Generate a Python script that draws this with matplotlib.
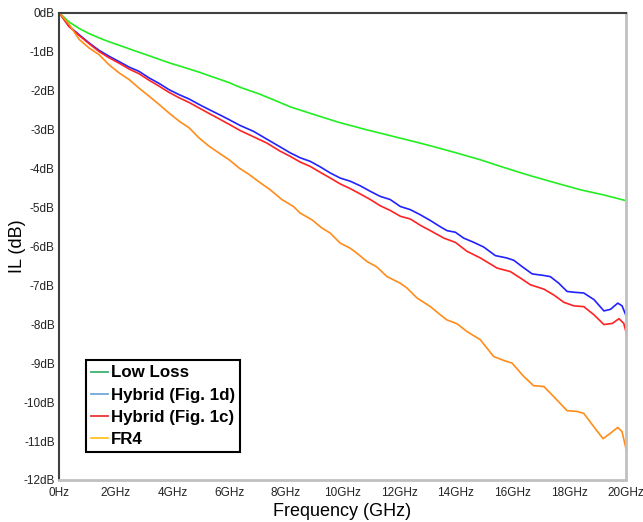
import matplotlib
matplotlib.use("Agg")
import matplotlib.pyplot as plt
from matplotlib.lines import Line2D

plt.rcParams['font.family'] = ['Liberation Sans', 'DejaVu Sans']

# valeurs (frequence en GHz, perte d'insertion en dB)
f_low_loss = [0, 0.35, 0.71, 1.06, 1.41, 1.76, 2.12, 2.47, 2.82, 3.18, 3.53, 3.88, 4.24,
              4.59, 4.94, 5.29, 5.65, 6.0, 6.39, 7.06, 7.6, 8.15, 9.0, 9.92, 10.8, 11.68,
              12.4, 13.1, 14.0, 14.86, 15.7, 16.63, 17.5, 18.39, 19.2, 20.0]
il_low_loss = [0, -0.24, -0.41, -0.54, -0.65, -0.75, -0.84, -0.93, -1.02, -1.11, -1.20,
               -1.29, -1.37, -1.45, -1.53, -1.62, -1.71, -1.80, -1.92, -2.09, -2.25, -2.42,
               -2.62, -2.83, -3.00, -3.16, -3.29, -3.42, -3.60, -3.78, -3.98, -4.19, -4.37,
               -4.55, -4.68, -4.83]

f_hybrid_1d = [0, 0.35, 0.71, 1.06, 1.41, 1.76, 2.12, 2.47, 2.82, 3.18, 3.53, 3.88, 4.24,
               4.59, 4.94, 5.29, 5.65, 6.0, 6.39, 6.86, 7.33, 7.80, 8.15, 8.51, 8.86, 9.21,
               9.57, 9.92, 10.27, 10.63, 10.98, 11.33, 11.68, 12.04, 12.39, 12.74, 13.10,
               13.45, 13.69, 13.98, 14.27, 14.63, 14.98, 15.39, 15.79, 16.04, 16.33, 16.69,
               17.10, 17.33, 17.63, 17.92, 18.16, 18.51, 18.87, 19.22, 19.45, 19.71, 19.86, 20.0]
il_hybrid_1d = [0, -0.35, -0.57, -0.78, -0.97, -1.12, -1.26, -1.40, -1.51, -1.68, -1.82,
                -1.98, -2.11, -2.22, -2.36, -2.49, -2.62, -2.75, -2.90, -3.05, -3.25, -3.45,
                -3.60, -3.73, -3.82, -3.96, -4.12, -4.25, -4.33, -4.45, -4.59, -4.72, -4.80,
                -4.98, -5.06, -5.19, -5.34, -5.50, -5.60, -5.64, -5.79, -5.90, -6.02, -6.24,
                -6.30, -6.36, -6.52, -6.71, -6.75, -6.78, -6.95, -7.16, -7.18, -7.20, -7.37,
                -7.66, -7.62, -7.46, -7.53, -7.78]

f_hybrid_1c = [0, 0.35, 0.71, 1.06, 1.41, 1.76, 2.12, 2.47, 2.82, 3.18, 3.53, 3.88, 4.24,
               4.59, 4.94, 5.29, 5.65, 6.0, 6.39, 6.86, 7.33, 7.80, 8.15, 8.51, 8.86, 9.21,
               9.57, 9.92, 10.27, 10.63, 10.98, 11.33, 11.68, 12.04, 12.39, 12.74, 13.10,
               13.57, 13.98, 14.39, 14.86, 15.45, 15.92, 16.28, 16.63, 17.10, 17.45, 17.81,
               18.16, 18.51, 18.87, 19.22, 19.52, 19.75, 19.92, 20.0]
il_hybrid_1c = [0, -0.36, -0.59, -0.80, -1.00, -1.16, -1.30, -1.45, -1.57, -1.74, -1.89,
                -2.05, -2.19, -2.31, -2.45, -2.59, -2.73, -2.87, -3.03, -3.19, -3.35, -3.56,
                -3.69, -3.84, -3.95, -4.10, -4.25, -4.40, -4.52, -4.66, -4.80, -4.96, -5.08,
                -5.23, -5.30, -5.46, -5.60, -5.79, -5.90, -6.13, -6.30, -6.56, -6.65, -6.82,
                -6.99, -7.10, -7.25, -7.44, -7.53, -7.55, -7.76, -8.01, -7.98, -7.86, -7.98, -8.20]

f_fr4 = [0, 0.35, 0.71, 1.06, 1.41, 1.76, 2.12, 2.47, 2.82, 3.18, 3.53, 3.88, 4.24, 4.59,
         4.94, 5.29, 5.65, 6.0, 6.35, 6.71, 7.06, 7.45, 7.86, 8.27, 8.51, 8.92, 9.27, 9.56,
         9.92, 10.27, 10.51, 10.86, 11.21, 11.57, 12.04, 12.27, 12.63, 13.10, 13.45, 13.68,
         14.04, 14.39, 14.86, 15.33, 15.68, 15.98, 16.39, 16.74, 17.10, 17.45, 17.92, 18.27,
         18.51, 18.86, 19.19, 19.45, 19.71, 19.86, 20.0]
il_fr4 = [0, -0.30, -0.69, -0.91, -1.08, -1.34, -1.55, -1.72, -1.94, -2.15, -2.36, -2.58,
          -2.79, -2.96, -3.22, -3.43, -3.61, -3.78, -3.99, -4.16, -4.35, -4.55, -4.80, -4.98,
          -5.15, -5.32, -5.53, -5.66, -5.92, -6.05, -6.18, -6.39, -6.53, -6.78, -6.95, -7.07,
          -7.33, -7.55, -7.76, -7.89, -7.99, -8.19, -8.40, -8.83, -8.93, -9.00, -9.34, -9.58,
          -9.60, -9.86, -10.22, -10.24, -10.29, -10.63, -10.94, -10.80, -10.65, -10.76, -11.20]

noms = ['Low Loss', 'Hybrid (Fig. 1d)', 'Hybrid (Fig. 1c)', 'FR4']
couleurs = ['#22ee22', '#2222ff', '#ff2222', '#ff8c1a']
couleurs_legende = ['#3cb371', '#6fa8dc', '#ee3333', '#ffc125']

x_ticks = list(range(0, 21, 2))
x_labels = ['0Hz'] + ['%dGHz' % v for v in x_ticks[1:]]
y_ticks = list(range(0, -13, -1))
y_labels = ['%ddB' % v for v in y_ticks]

fig = plt.figure(figsize=(6.43, 5.22), dpi=100)
ax = fig.add_axes([0.0918, 0.0805, 0.8818, 0.8955])

series = [(f_low_loss, il_low_loss), (f_hybrid_1d, il_hybrid_1d),
          (f_hybrid_1c, il_hybrid_1c), (f_fr4, il_fr4)]
for (f, il), c in zip(series, couleurs):
    ax.plot(f, il, color=c, linewidth=1.2)

ax.set_xlim(0, 20)
ax.set_ylim(-12, 0)
ax.set_xticks(x_ticks)
ax.set_xticklabels(x_labels)
ax.set_yticks(y_ticks)
ax.set_yticklabels(y_labels)
ax.tick_params(length=0, labelsize=8.5, colors='#222222', pad=3)
ax.tick_params(axis='x', pad=5)

for s in ['left', 'top']:
    ax.spines[s].set_color('#404040')
    ax.spines[s].set_linewidth(1.5)
for s in ['right', 'bottom']:
    ax.spines[s].set_color('#c0c0c0')
    ax.spines[s].set_linewidth(2)

ax.set_xlabel('Frequency (GHz)', fontsize=13, labelpad=3)
ax.set_ylabel('IL (dB)', fontsize=13, labelpad=-2)

handles = [Line2D([0], [0], color=c, linewidth=1.3) for c in couleurs_legende]
leg = ax.legend(handles, noms, loc='lower left', bbox_to_anchor=(0.048, 0.06),
                prop={'weight': 'bold', 'size': 12.2}, fancybox=False, framealpha=1,
                edgecolor='black', handlelength=1.0, handletextpad=0.15,
                labelspacing=0.42, borderpad=0.3, borderaxespad=0)
leg.get_frame().set_linewidth(1.5)

plt.savefig('out.png', dpi=100)
